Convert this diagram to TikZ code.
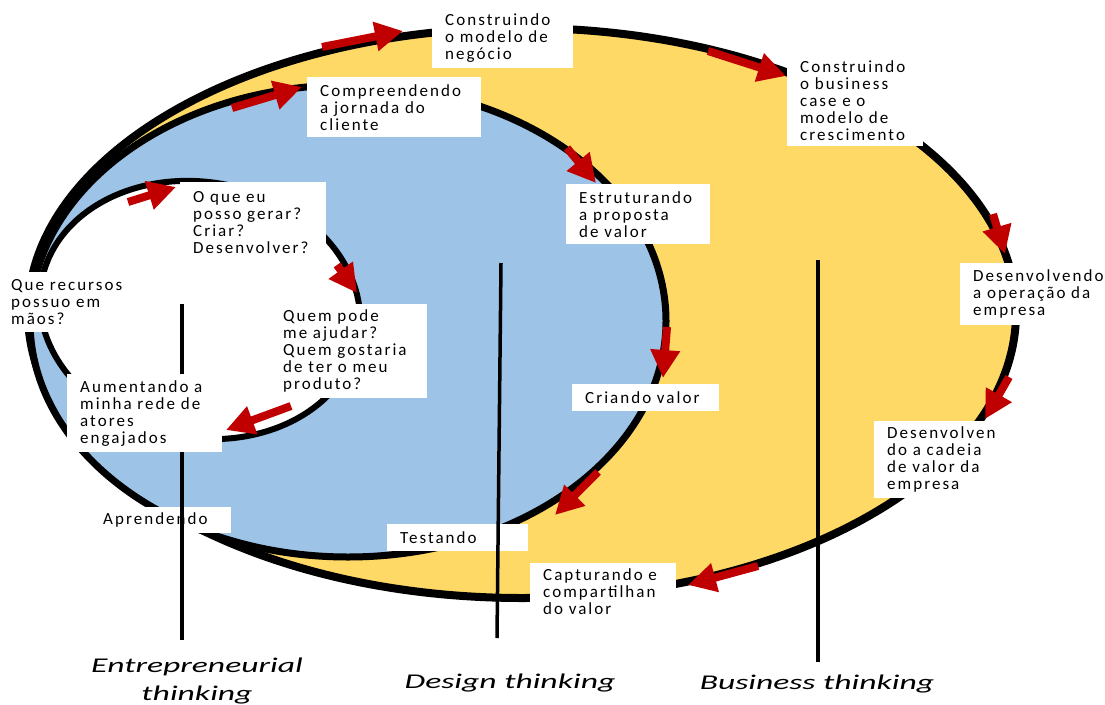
\documentclass[tikz,border=0pt]{standalone}
\usepackage{fontspec}
\usetikzlibrary{arrows.meta}
\newfontfamily\boxfont[LetterSpace=12]{Carlito}
\newfontfamily\thinkfont[FakeStretch=1.6]{Carlito}
\definecolor{ideiayellow}{HTML}{FFD966}
\definecolor{ideiablue}{HTML}{9DC3E6}
\definecolor{ideiared}{HTML}{C00000}

\tikzset{
  infobox/.style={fill=white, anchor=north west, inner xsep=13pt, inner ysep=3pt,
    align=left, font=\boxfont\fontsize{17}{17}\selectfont},
  stage/.style={ideiared, line width=8pt, -{Triangle[width=28pt,length=28pt]}},
  divider/.style={line width=3.5pt},
  thinking/.style={font=\thinkfont\itshape\fontsize{21}{28}\selectfont, align=center, inner sep=0pt}
}

\begin{document}
\begin{tikzpicture}[x=1pt, y=-1pt]
  \useasboundingbox (0,0) rectangle (1105,704);
  % business, design, entrepreneurial loops
  \draw [fill=ideiayellow, line width=8pt] (522,313) ellipse [x radius=494pt, y radius=285pt];
  \draw [fill=ideiablue, line width=7pt]   (348,321) ellipse [x radius=318pt, y radius=236pt];
  \draw [fill=white, line width=6pt, rotate around={-10:(200,310)}]
                                           (200,310) ellipse [x radius=161pt, y radius=128pt];
  % red arrows
  \foreach \xa/\ya/\xb/\yb in {322/47/403/31, 708/51/786/76, 993/214/1005/254,
      1009/377/985/419, 758/566/688/585,
      232/108/302/87, 567/148/596/183, 667/327/663/378, 598/472/555/515,
      128/202/176/187, 337/265/357/293, 291/406/226/430}
    \draw [stage] (\xa,\ya) -- (\xb,\yb);
  % outer loop
  \node [infobox, text width=115pt, minimum height=60pt] (modelo)   at (432,8)   {Construindo\\o modelo de\\negócio};
  \node [infobox, text width=110pt, minimum height=91pt] (business) at (787,55)  {Construindo\\o business\\case e o\\modelo de\\crescimento};
  \node [infobox, text width=135pt, minimum height=62pt] (operacao) at (960,263) {Desenvolvendo\\a operação da\\empresa};
  \node [infobox, text width=114pt, minimum height=77pt] (cadeia)   at (874,421) {Desenvolven\\do a cadeia\\de valor da\\empresa};
  \node [infobox, text width=120pt, minimum height=56pt] (captura)  at (530,563) {Capturando e\\compartilhan\\do valor};
  % middle loop
  \node [infobox, text width=148pt, minimum height=60pt] (jornada)  at (307,77)  {Compreendendo\\a jornada do\\cliente};
  \node [infobox, text width=118pt, minimum height=60pt] (proposta) at (566,184) {Estruturando\\a proposta\\de valor};
  \node [infobox, text width=121pt, minimum height=27pt] (criando)  at (572,384) {Criando valor};
  \node [infobox, text width=115pt, minimum height=27pt] (testando) at (387,524) {Testando};
  \node [infobox, text width=115pt, minimum height=26pt] (aprende)  at (90,507)  {Aprendendo};
  % inner loop
  \node [infobox, text width=120pt, minimum height=80pt] (gerar)    at (180,182) {O que eu\\posso gerar?\\Criar?\\Desenvolver?};
  \node [infobox, text width=118pt, minimum height=60pt] (recursos) at (-2,272)  {Que recursos\\possuo em\\mãos?};
  \node [infobox, text width=131pt, minimum height=94pt] (quem)     at (270,304) {Quem pode\\me ajudar?\\Quem gostaria\\de ter o meu\\produto?};
  % dividers
  \coordinate (entre top)    at (182,304);
  \coordinate (entre bot)    at (182,640);
  \coordinate (design top)   at (501,263);
  \coordinate (design bot)   at (497,638);
  \coordinate (business top) at (818,260);
  \coordinate (business bot) at (818,662);
  \draw [divider] (entre top) -- (entre bot);
  \draw [divider] (design top) -- (design bot);
  \draw [divider] (business top) -- (business bot);
  \node [infobox, text width=129pt, minimum height=78pt] (rede)     at (67,374)  {Aumentando a\\minha rede de\\atores\\engajados};
  % labels
  \node [thinking, anchor=north] (entre label)    at (197,658) {Entrepreneurial\\thinking};
  \node [thinking, anchor=base]  (design label)   at (510,688) {Design thinking};
  \node [thinking, anchor=base]  (business label) at (817,689) {Business thinking};
\end{tikzpicture}
\end{document}
